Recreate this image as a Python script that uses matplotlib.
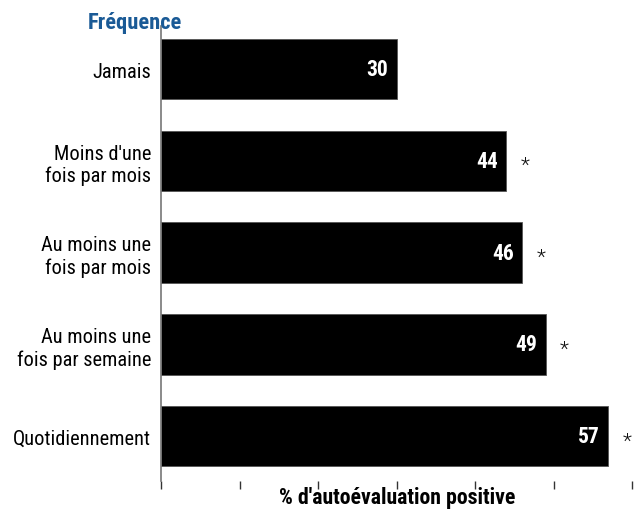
import matplotlib
matplotlib.use("Agg")
import matplotlib.pyplot as plt

categories = ["Jamais", "Moins d'une\nfois par mois", "Au moins une\nfois par mois",
              "Au moins une\nfois par semaine", "Quotidiennement"]
values = [30, 44, 46, 49, 57]
labels = ["30", "44", "46", "49", "57"]
significant = [False, True, True, True, True]
xticks = [0, 10, 20, 30, 40, 50, 60]

FAM = ['Roboto Condensed', 'DejaVu Sans']
plt.rcParams['font.family'] = FAM

fig = plt.figure(figsize=(6.38, 5.10), dpi=100)
ax = fig.add_axes([161/638, 1 - 482/510, (632 - 161)/638, (482 - 27)/510])

ypos = list(range(len(categories)))
ax.barh(ypos, values, height=0.66, color='black', edgecolor='#555555', linewidth=0.6)
for y, v, lab, s in zip(ypos, values, labels, significant):
    ax.annotate(lab, (v, y), xytext=(-6, 0), textcoords='offset points',
                ha='right', va='center', color='white', fontsize=15.5, fontweight='bold')
    if s:
        ax.annotate('*', (v, y), xytext=(13.5, -3.5), textcoords='offset points',
                    ha='center', va='center', color='#111111', fontsize=15,
                    fontweight='light')

ax.set_xlim(0, 60)
ax.set_ylim(4.49, -0.47)
ax.set_xticks(xticks)
ax.set_xticklabels([])
ax.set_yticks(ypos)
ax.set_yticklabels(categories, fontsize=14.7, ha='right', linespacing=1.2)
ax.tick_params(axis='y', length=0, pad=7)
ax.tick_params(axis='x', length=6, width=1, color='#333333', direction='out')
for sp in ['top', 'right', 'bottom']:
    ax.spines[sp].set_visible(False)
ax.spines['left'].set_color('#777777')
ax.spines['left'].set_linewidth(1.2)

fig.text(397/638, 1 - 498/510, "% d'autoévaluation positive", ha='center', va='center',
         fontsize=15.7, fontweight='bold')
fig.text(135/638, 1 - 23/510, "Fréquence", ha='center', va='center',
         fontsize=16.2, fontweight='bold', color='#1a5a96')

fig.savefig("out.png", dpi=100)
